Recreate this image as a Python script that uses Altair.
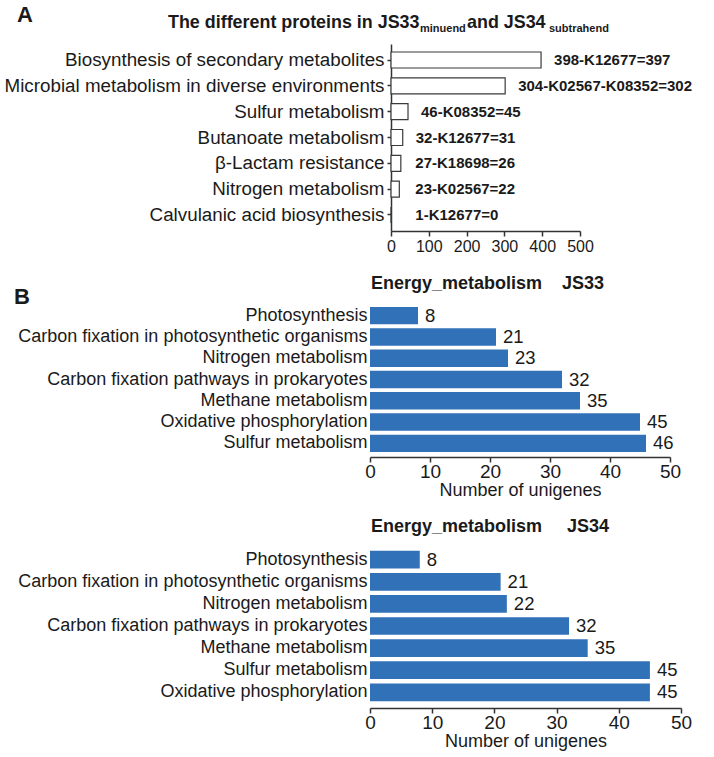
import altair as alt
import pandas as pd

FONT = "Liberation Sans"
INK = "#1a1a1a"
AXIS = "#333333"
BLUE = "#3071b8"

# ---------------- data ----------------
a_categories = [
    "Biosynthesis of secondary metabolites",
    "Microbial metabolism in diverse environments",
    "Sulfur metabolism",
    "Butanoate metabolism",
    "β-Lactam resistance",
    "Nitrogen metabolism",
    "Calvulanic acid biosynthesis",
]
a_values = [397, 302, 45, 31, 26, 22, 0]
a_labels = [
    "398-K12677=397",
    "304-K02567-K08352=302",
    "46-K08352=45",
    "32-K12677=31",
    "27-K18698=26",
    "23-K02567=22",
    "1-K12677=0",
]
a_ticks = [0, 100, 200, 300, 400, 500]

b1_categories = [
    "Photosynthesis",
    "Carbon fixation in photosynthetic organisms",
    "Nitrogen metabolism",
    "Carbon fixation pathways in prokaryotes",
    "Methane metabolism",
    "Oxidative phosphorylation",
    "Sulfur metabolism",
]
b1_values = [8, 21, 23, 32, 35, 45, 46]

b2_categories = [
    "Photosynthesis",
    "Carbon fixation in photosynthetic organisms",
    "Nitrogen metabolism",
    "Carbon fixation pathways in prokaryotes",
    "Methane metabolism",
    "Sulfur metabolism",
    "Oxidative phosphorylation",
]
b2_values = [8, 21, 22, 32, 35, 45, 45]
b_ticks = [0, 10, 20, 30, 40, 50]

NB = "\u00a0"

one = pd.DataFrame({"k": [0]})


def note(txt, x, y, size, weight="bold", baseline="alphabetic"):
    return alt.Chart(one).mark_text(
        text=txt, align="left", baseline=baseline, fontSize=size,
        fontWeight=weight, font=FONT, color=INK
    ).encode(x=alt.value(x), y=alt.value(y))


# ---------------- panel A ----------------
dfA = pd.DataFrame({"cat": a_categories, "value": a_values, "label": a_labels})
A_SHIFT = 21
A_W = 21 + 189
A_H = 187

xscaleA = alt.Scale(domain=[0, 500], range=[A_SHIFT, A_W])
xA_axis = alt.Axis(values=a_ticks, title=None, labelFontSize=16, tickSize=5,
                   labelPadding=2, grid=False, domainColor=AXIS, tickColor=AXIS,
                   domainWidth=1.5, tickWidth=1.5, labelColor=INK, labelFont=FONT,
                   labelOverlap=False, labelFlush=False, minExtent=25)
yA = alt.Y("cat:N", sort=a_categories,
           scale=alt.Scale(paddingInner=0.38, paddingOuter=0.31),
           axis=alt.Axis(title=None, offset=-A_SHIFT, labelFontSize=18.8, labelLimit=0,
                         tickSize=4, labelPadding=3, domainColor=AXIS, tickColor=AXIS,
                         domainWidth=1.5, tickWidth=1.5, labelColor=INK, labelFont=FONT))

barsA = alt.Chart(dfA).mark_bar(fill="white", stroke="#3a3a3a", strokeWidth=1.2).encode(
    x=alt.X("value:Q", scale=xscaleA, axis=xA_axis),
    y=yA,
)
textA = alt.Chart(dfA).transform_calculate(lx="max(datum.value, 30)").mark_text(
    align="left", baseline="middle", dx=13, fontWeight="bold", fontSize=15,
    font=FONT, color=INK
).encode(
    x=alt.X("lx:Q", scale=xscaleA),
    y=alt.Y("cat:N", sort=a_categories),
    text="label:N",
)

letterA = note("A", -353, -29, 22, baseline="middle")
t1 = note("The different proteins in JS33", -202, -16, 17.9)
t2 = note("minuend", 50, -12, 11)
t3 = note("and JS34", 97, -16, 17.9)
t4 = note("subtrahend", 179, -12, 11)

panelA = alt.layer(barsA, textA, letterA, t1, t2, t3, t4).properties(width=A_W, height=A_H)


# ---------------- panel B ----------------
def bchart(cats, vals, title_txt, title_y, width, height, pi, po, extra=None):
    df = pd.DataFrame({"cat": cats, "value": vals})
    x = alt.X("value:Q", scale=alt.Scale(domain=[0, 50]),
              axis=alt.Axis(values=b_ticks, title="Number of unigenes", titleFontSize=18,
                            titleFontWeight="normal", titleFont=FONT, titleColor=INK,
                            titlePadding=0, labelFontSize=19, labelFont=FONT,
                            labelColor=INK, tickSize=5, labelPadding=0, grid=False,
                            labelOverlap=False, labelFlush=False, domainColor=AXIS,
                            tickColor=AXIS, domainWidth=1.5, tickWidth=1.5))
    y = alt.Y("cat:N", sort=cats, scale=alt.Scale(paddingInner=pi, paddingOuter=po),
              axis=alt.Axis(title=None, domain=False, ticks=False, labelFontSize=18,
                            labelPadding=3, labelLimit=0, labelFont=FONT, labelColor=INK))
    bars = alt.Chart(df).mark_bar(color=BLUE).encode(x=x, y=y)
    text = alt.Chart(df).mark_text(align="left", baseline="middle", dx=7, fontSize=18.5,
                                   font=FONT, color=INK).encode(
        x="value:Q", y=alt.Y("cat:N", sort=cats), text="value:Q")
    title = note(title_txt, 1, title_y, 18, baseline="middle")
    layers = [bars, text, title]
    if extra is not None:
        layers.append(extra)
    return alt.layer(*layers).properties(width=width, height=height)


letterB = note("B", -356, -5, 22, baseline="middle")
panelB1 = bchart(b1_categories, b1_values,
                 "Energy_metabolism" + NB * 4 + "JS33", -18, 300, 155, 0.18, 0.23, letterB)
panelB2 = bchart(b2_categories, b2_values,
                 "Energy_metabolism" + NB * 5 + "JS34", -17, 311, 164, 0.2, 0.31)

chart = alt.vconcat(panelA, panelB1, panelB2, spacing=19).properties(
    padding={"left": 4, "top": 4, "right": 4, "bottom": 3}
).configure_view(strokeWidth=0, stroke="transparent")

chart.save("out.html", embed_options={"renderer": "svg", "actions": False})
